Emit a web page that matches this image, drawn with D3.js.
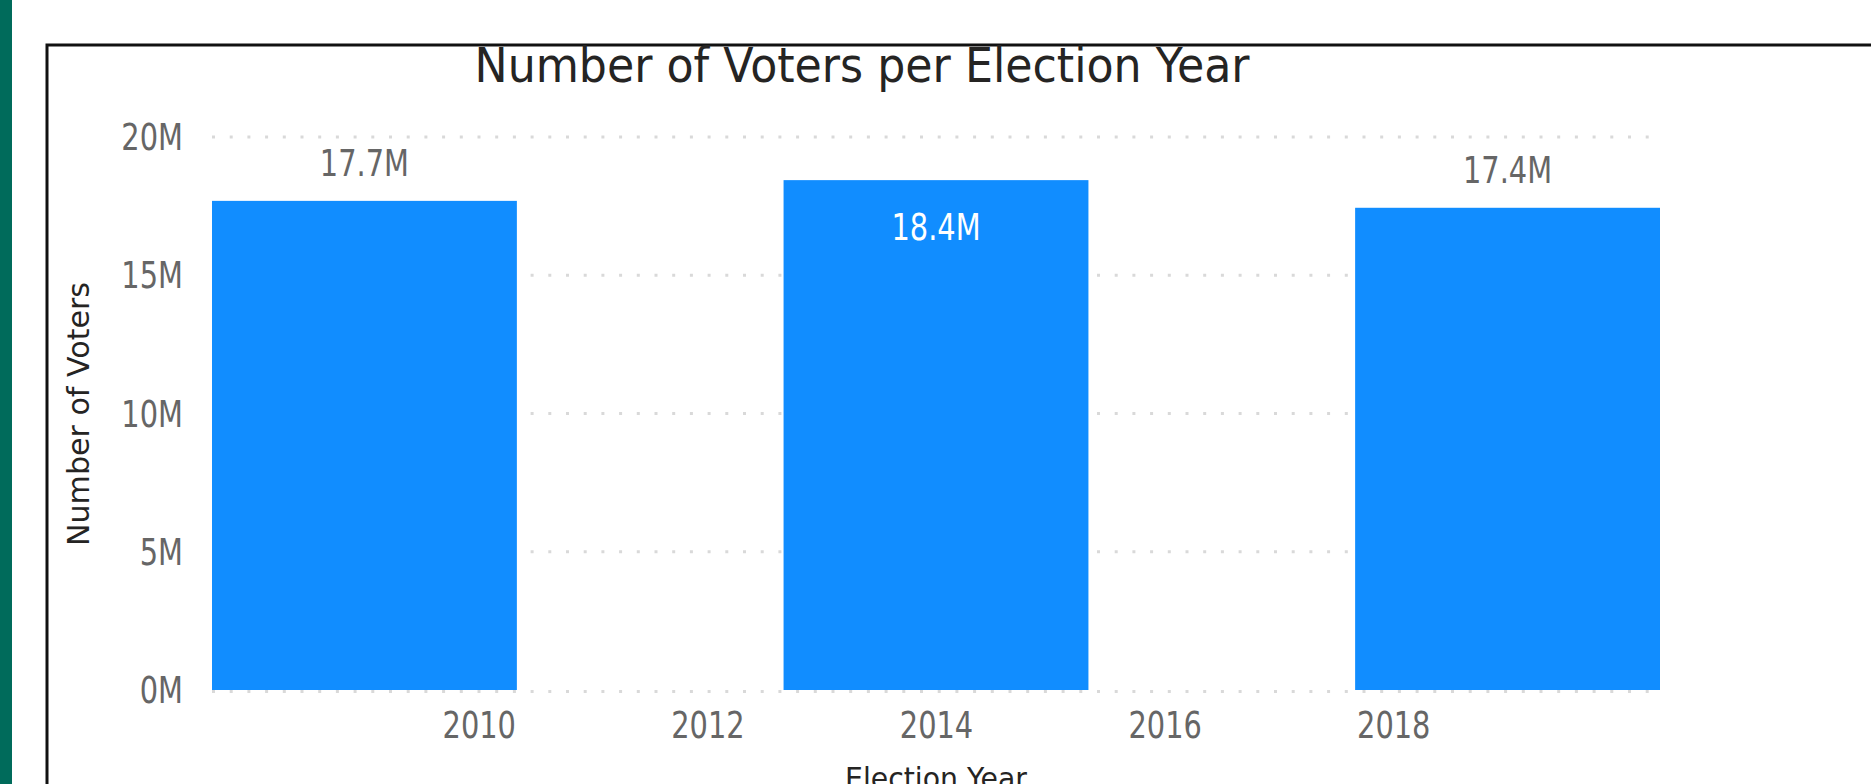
<!DOCTYPE html>
<html>
<head>
<meta charset="utf-8">
<script src="https://cdn.jsdelivr.net/npm/d3@7"></script>
<style>
  body { margin: 0; background: #fff; }
  svg text { font-family: "DejaVu Sans", sans-serif; }
</style>
</head>
<body>
<div id="chart"></div>
<script>
// values
const years = [2009, 2014, 2019];
const voters = [17.69e6, 18.44e6, 17.44e6];
const yTicks = [0, 5e6, 10e6, 15e6, 20e6];
const xTicks = [2010, 2012, 2014, 2016, 2018];
const chartTitle = "Number of Voters per Election Year";
const yTitle = "Number of Voters";
const xTitle = "Election Year";

const W = 1871, H = 784;
const plot = { left: 212, right: 1660, top: 137, bottom: 690 };
const barYears = 2.667; // bar width in x-axis years
const SQUEEZE = 0.78;   // report font is a narrow one

const rows = years.map((yr, i) => ({ year: yr, value: voters[i] }));

const svg = d3.select("#chart").append("svg").attr("width", W).attr("height", H);

// page strip + visual frame
svg.append("rect").attr("x", 0).attr("y", 0).attr("width", 12).attr("height", H).attr("fill", "#006b5b");
svg.append("path")
  .attr("d", `M47,${H + 5}V45H${W + 5}`)
  .attr("fill", "none")
  .attr("stroke", "#111")
  .attr("stroke-width", 3);

const x = d3.scaleLinear()
  .domain([years[0] - barYears / 2, years[years.length - 1] + barYears / 2])
  .range([plot.left, plot.right]);
const y = d3.scaleLinear().domain([0, 20e6]).range([plot.bottom, plot.top]);

function squeeze(sel, ratio) {
  sel.each(function () {
    const w = this.getComputedTextLength();
    d3.select(this).attr("textLength", w * ratio).attr("lengthAdjust", "spacingAndGlyphs");
  });
}

// dotted gridlines
svg.append("g").selectAll("line")
  .data(yTicks)
  .enter()
  .append("line")
  .attr("x1", plot.left)
  .attr("x2", plot.right - 6)
  .attr("y1", (d) => y(d) + (d === 0 ? 1.5 : 0))
  .attr("y2", (d) => y(d) + (d === 0 ? 1.5 : 0))
  .attr("stroke", "#d9d9d9")
  .attr("stroke-width", 3)
  .attr("stroke-dasharray", "3 14.7");

// bars
const bw = x(years[0] + barYears) - x(years[0]);
svg.append("g").selectAll("rect")
  .data(rows)
  .enter()
  .append("rect")
  .attr("x", (d) => x(d.year) - bw / 2)
  .attr("y", (d) => y(d.value))
  .attr("width", bw)
  .attr("height", (d) => y(0) - y(d.value))
  .attr("fill", "#118dff");

// data labels, inside the bar when there is no room above
const fmt = (v) => d3.format(".1f")(v / 1e6) + "M";
const dataLabels = svg.append("g").selectAll("text")
  .data(rows)
  .enter()
  .append("text")
  .attr("x", (d) => x(d.year))
  .attr("y", (d) => {
    const above = y(d.value) - 38;
    return above - 14 < plot.top - 5 ? y(d.value) + 47 : above;
  })
  .attr("dy", "0.36em")
  .attr("text-anchor", "middle")
  .attr("font-size", 37)
  .attr("fill", (d) => (y(d.value) - 52 < plot.top - 5 ? "#fff" : "#666"))
  .text((d) => fmt(d.value));
squeeze(dataLabels, SQUEEZE);

// axes
const yAxis = svg.append("g")
  .attr("transform", `translate(${plot.left},0)`)
  .call(d3.axisLeft(y).tickValues(yTicks).tickFormat((d) => d / 1e6 + "M").tickSize(0).tickPadding(29));
yAxis.select(".domain").remove();
yAxis.attr("font-family", null).attr("font-size", 37);
yAxis.selectAll("text").attr("fill", "#666").attr("dy", "0.34em");
squeeze(yAxis.selectAll("text"), SQUEEZE);

const xAxis = svg.append("g")
  .attr("transform", `translate(0,${plot.bottom})`)
  .call(d3.axisBottom(x).tickValues(xTicks).tickFormat(d3.format("d")).tickSize(0).tickPadding(22));
xAxis.select(".domain").remove();
xAxis.attr("font-family", null).attr("font-size", 37);
xAxis.selectAll("text").attr("fill", "#666");
squeeze(xAxis.selectAll("text"), SQUEEZE);

// titles
svg.append("text")
  .attr("x", 862)
  .attr("y", 82)
  .attr("text-anchor", "middle")
  .attr("font-size", 48)
  .attr("fill", "#252423")
  .attr("textLength", 775)
  .attr("lengthAdjust", "spacingAndGlyphs")
  .text(chartTitle);

svg.append("text")
  .attr("transform", "translate(89,414) rotate(-90)")
  .attr("text-anchor", "middle")
  .attr("font-size", 30)
  .attr("fill", "#252423")
  .attr("textLength", 264)
  .attr("lengthAdjust", "spacingAndGlyphs")
  .text(yTitle);

svg.append("text")
  .attr("x", (plot.left + plot.right) / 2)
  .attr("y", 789)
  .attr("text-anchor", "middle")
  .attr("font-size", 30)
  .attr("fill", "#252423")
  .attr("textLength", 182)
  .attr("lengthAdjust", "spacingAndGlyphs")
  .text(xTitle);
</script>
</body>
</html>
